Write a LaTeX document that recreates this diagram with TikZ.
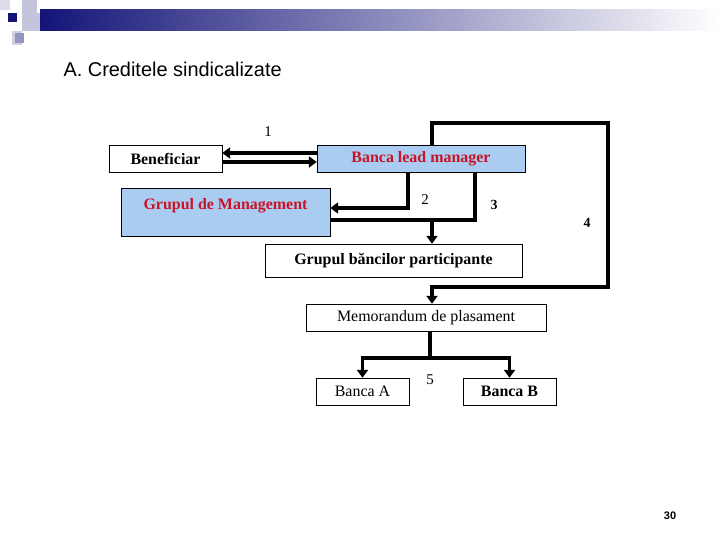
\documentclass[tikz,border=0pt]{standalone}
\usepackage{fontspec}
\setmainfont{Liberation Serif}
\newfontfamily\arialfont{Liberation Sans}
\usetikzlibrary{positioning,arrows.meta}
\definecolor{boxblue}{RGB}{170,204,240}
\definecolor{txtred}{RGB}{200,20,40}
\definecolor{navy}{RGB}{20,20,120}
\tikzset{
  plain/.style={draw, inner sep=0pt, font=\bfseries\fontsize{16}{18}\selectfont},
  light/.style={draw, inner sep=0pt, font=\fontsize{16}{18}\selectfont},
  blue/.style={plain, fill=boxblue, text=txtred},
  num/.style={font=\fontsize{15}{17}\selectfont},
  flow/.style={line width=3.5pt, -{Triangle[length=8pt,width=11pt]}},
  bar/.style={line width=3.5pt}
}
\begin{document}
\begin{tikzpicture}[x=1bp, y=-1bp]
  \useasboundingbox (0,0) rectangle (720,540);
  % header
  \shade[left color=navy, right color=white] (40,10) rectangle (720,31);
  \fill[navy!15] (0,0) rectangle (10,10);
  \fill[navy!25] (22,0) rectangle (37,13);
  \fill[navy!25] (22,13) rectangle (40,31);
  \fill[navy] (8,13) rectangle (17,22);
  \fill[navy!20] (12,31) rectangle (22,45);
  \fill[navy!45] (15,33) rectangle (24,43);
  \node[anchor=west, font=\arialfont\fontsize{20}{22}\selectfont] (T) at (60,69) {A. Creditele sindicalizate};
  % boxes
  \node[plain, minimum width=113bp, minimum height=27bp] (B) at (165.5,158.5) {Beneficiar};
  \node[blue, minimum width=208bp, minimum height=27bp] (L) at (421,158.5) {Banca lead manager};
  \node[blue, minimum width=209bp, minimum height=48bp, text depth=16bp] (M) at (225.5,212) {Grupul de Management};
  \node[plain, minimum width=257bp, minimum height=33bp] (P) at (393.5,260.5) {Grupul băncilor participante};
  \node[light, minimum width=240bp, minimum height=27bp] (D) at (426,317.5) {Memorandum de plasament};
  \node[light, minimum width=93bp, minimum height=27bp] (A) at (362.5,391.5) {Banca A};
  \node[plain, minimum width=93bp, minimum height=27bp] (C) at (509.5,391.5) {Banca B};
  % labels
  \node[num] (n1) at (268,132) {1};
  \node[num] (n2) at (425,200) {2};
  \node[num, font=\bfseries\fontsize{14}{16}\selectfont] (n3) at (494,205) {3};
  \node[num, font=\bfseries\fontsize{14}{16}\selectfont] (n4) at (587,223) {4};
  \node[num] (n5) at (430,380) {5};
  \node[font=\arialfont\bfseries\fontsize{11}{12}\selectfont] (pg) at (670,516) {30};
  % connectors
  \coordinate (j3) at (432,220);
  \coordinate (j5) at (430,358);
  \draw[flow] (L.west |- 0,153) -- (B.east |- 0,153);
  \draw[flow] (B.east |- 0,162) -- (L.west |- 0,162);
  \draw[flow] (408,172) |- (M.east |- 0,208);
  \draw[bar] (475,172) |- (M.east |- j3);
  \draw[flow] (j3) -- (P.north -| j3);
  \draw[flow] (432,145) |- (608,123) |- (432,287) -- (D.north -| 432,0);
  \draw[bar] (D.south -| j5) -- (j5);
  \draw[flow] (j5) -| (A.north);
  \draw[flow] (j5) -| (C.north);
\end{tikzpicture}
\end{document}
